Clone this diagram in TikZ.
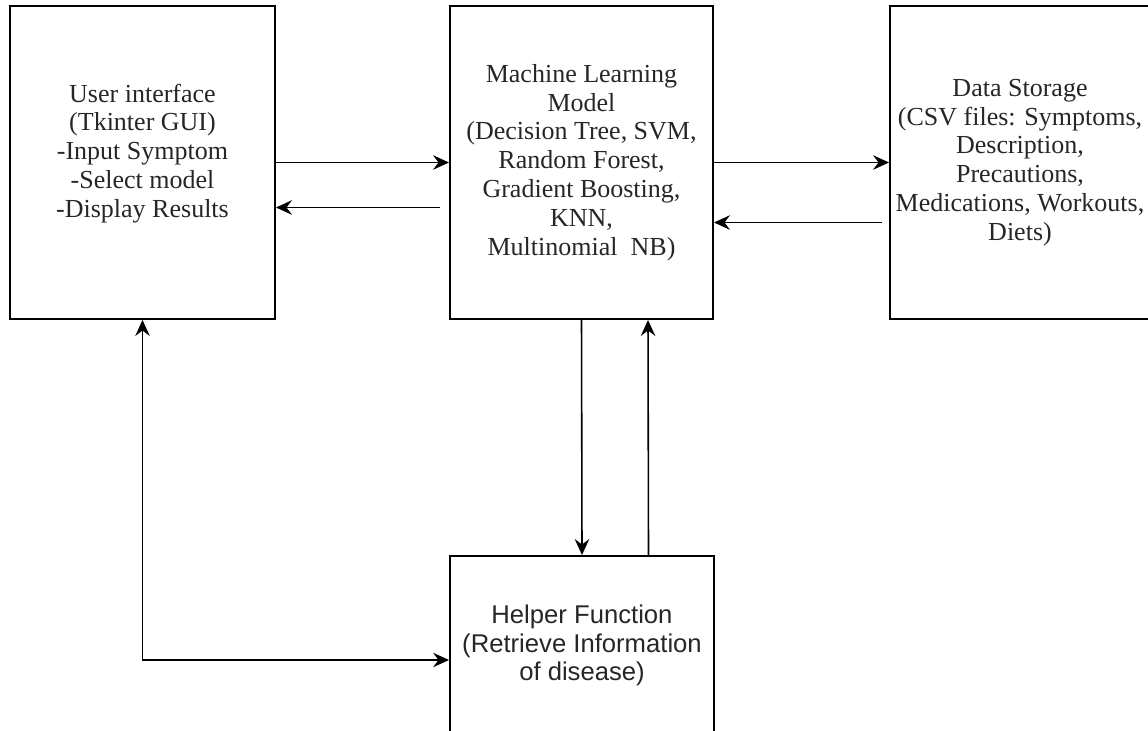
\documentclass[tikz,border=0pt]{standalone}
\usepackage{fontspec}
\setmainfont{Liberation Serif}
\newfontfamily\helperfont{Liberation Sans}
\usetikzlibrary{positioning}
\usetikzlibrary{arrows.meta}
\usetikzlibrary{calc}

\begin{document}
\begin{tikzpicture}
    [scale=1,
    blockbox/.style={draw=black, line width=1.1pt, align=center, text=black!85,
        font=\fontsize{14.8}{16.4}\selectfont, inner sep=0pt},
    helperbox/.style={blockbox, font=\helperfont\fontsize{14.6}{16.2}\selectfont},
    tip/.style={Stealth[length=3.2mm,width=2.9mm,inset=1.1mm]},
    flow/.style={draw=black, line width=0.9pt, arrows={-Stealth[length=3.2mm,width=2.9mm,inset=1.1mm]}}]

    \useasboundingbox (0,0) rectangle (22.96,14.6);

    \node[blockbox, minimum width=5.3cm, minimum height=6.26cm] (ui) at (2.85,11.35)
        {User interface \\ (Tkinter GUI) \\ -Input Symptom \\ -Select model \\ -Display Results \\[-0.1cm]};

    \node[blockbox, minimum width=5.26cm, minimum height=6.26cm] (ml) at (11.63,11.35)
        {Machine Learning \\ Model \\ (Decision Tree, SVM, \\ Random Forest, \\ Gradient Boosting, \\ KNN, \\ Multinomial~~NB)};

    \node[blockbox, minimum width=5.2cm, minimum height=6.26cm] (ds) at (20.4,11.35)
        {Data Storage \\ (CSV files: Symptoms, \\ Description, \\ Precautions, \\ Medications, Workouts, \\ Diets)};

    \node[helperbox, minimum width=5.28cm, minimum height=3.58cm] (hf) at (11.64,1.69)
        {Helper Function \\ (Retrieve Information \\ of disease)};

    %% left <-> middle
    \draw [flow] (ui.east) -- (ml.west);
    \draw [flow] ([xshift=-0.18cm,yshift=-0.9cm]ml.west) -- ([yshift=-0.9cm]ui.east);

    %% middle <-> right
    \draw [flow] (ml.east) -- (ds.west);
    \draw [flow] ([xshift=-0.14cm,yshift=-1.2cm]ds.west) -- ([yshift=-1.2cm]ml.east);

    %% middle <-> helper
    \draw [flow] (ml.south) -- (hf.north);
    \draw [flow] ([xshift=1.33cm]hf.north) -- ([xshift=1.33cm]ml.south);

    %% left <-> helper
    \coordinate (corner) at ($(ui.south |- hf.west)+(0,-0.29)$);
    \draw [flow, arrows={Stealth[length=3.2mm,width=2.9mm,inset=1.1mm]-Stealth[length=3.2mm,width=2.9mm,inset=1.1mm]}]
        (ui.south) -- (corner) -- ([yshift=-0.29cm]hf.west);
\end{tikzpicture}
\end{document}
